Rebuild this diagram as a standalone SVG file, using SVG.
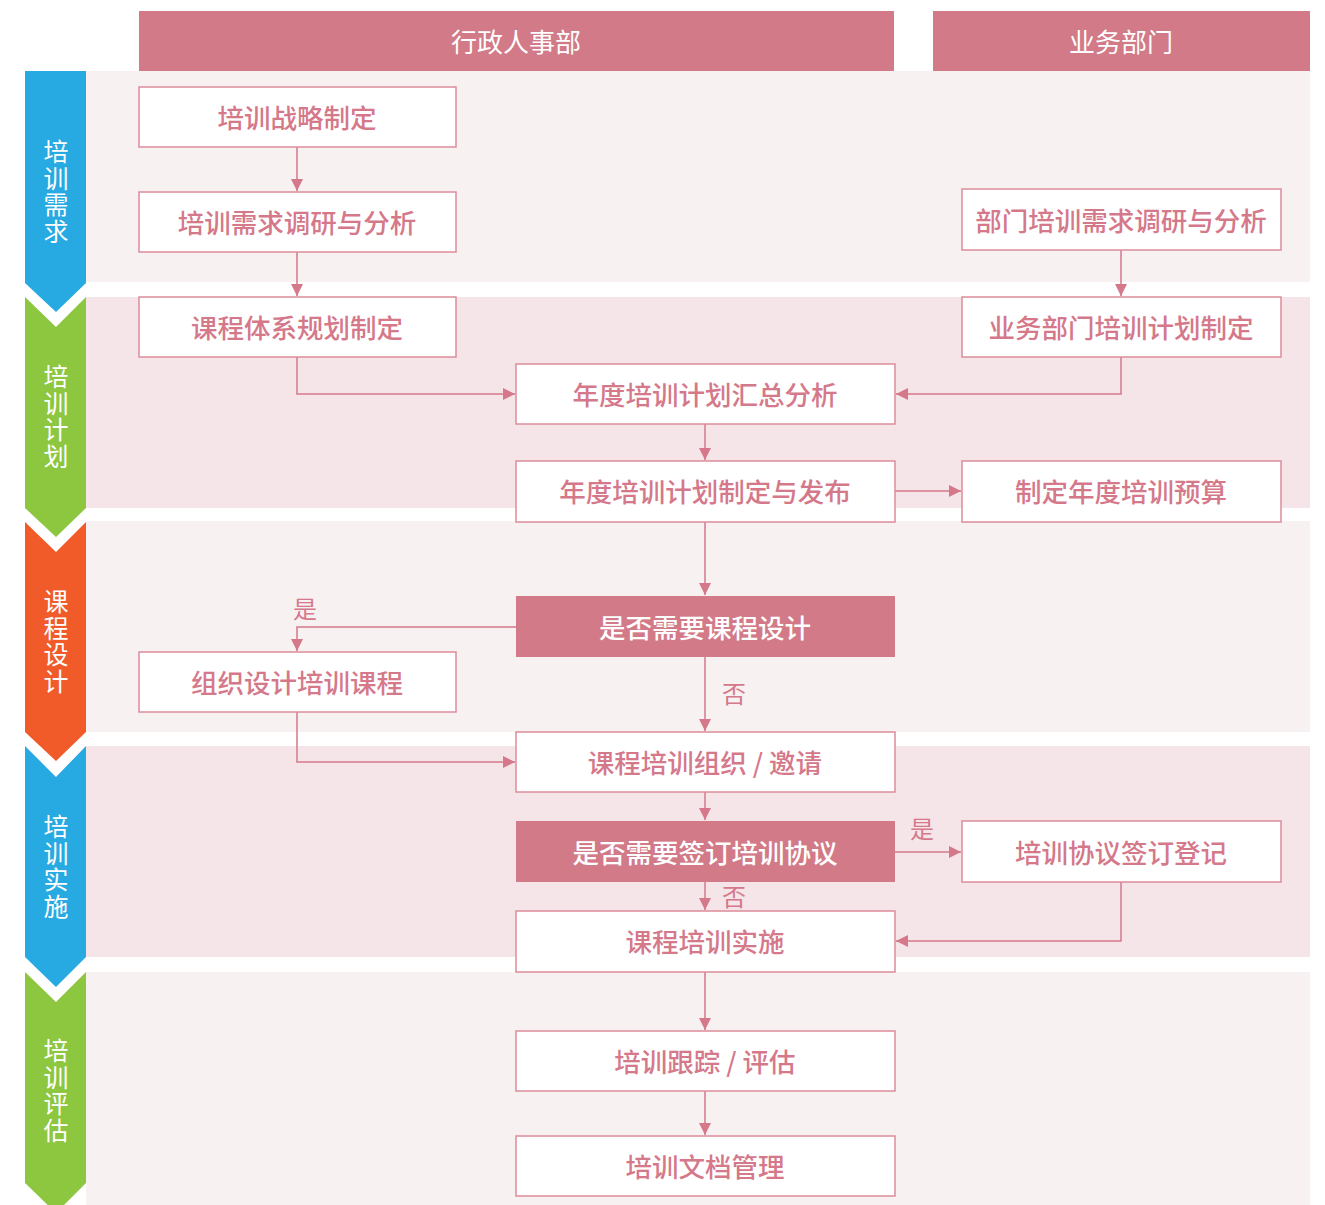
<svg xmlns="http://www.w3.org/2000/svg" width="1325" height="1205" viewBox="0 0 1325 1205">
<defs>
<style>
.band-a{fill:#f8f1f2}
.band-b{fill:#f5e5e9}
.hdr{fill:#d27a87}
.hdr-t{fill:#fff;font-family:"Noto Sans CJK SC","Noto Sans",sans-serif;font-size:26px;text-anchor:middle;dominant-baseline:central}
.chev-t{fill:#fff;font-family:"Noto Sans CJK SC","Noto Sans",sans-serif;font-size:25px;text-anchor:middle;dominant-baseline:central;writing-mode:vertical-rl;text-orientation:upright;letter-spacing:1.5px}
.box{fill:#fff;stroke:#dc8c9a;stroke-width:1.5}
.dec{fill:#d27a87}
.box-t{fill:#d4788a;font-family:"Noto Sans CJK SC","Noto Sans",sans-serif;font-size:26.5px;font-weight:500;text-anchor:middle;dominant-baseline:central}
.dec-t{fill:#fff;font-family:"Noto Sans CJK SC","Noto Sans",sans-serif;font-size:26.5px;font-weight:500;text-anchor:middle;dominant-baseline:central}
.lbl{fill:#d4788a;font-family:"Noto Sans CJK SC","Noto Sans",sans-serif;font-size:24px;text-anchor:middle;dominant-baseline:central}
.ln{fill:none;stroke:#d4788a;stroke-width:1.5;marker-end:url(#ah)}
</style>
<marker id="ah" viewBox="0 0 12 12" refX="12" refY="6" markerWidth="12" markerHeight="12" markerUnits="userSpaceOnUse" orient="auto">
<path d="M0,0 L12,6 L0,12 Z" fill="#d4788a"/>
</marker>
</defs>
<rect width="1325" height="1205" fill="#fff"/>
<g id="bands">
<rect class="band-a" x="86" y="71" width="1224" height="211"/>
<rect class="band-b" x="86" y="297" width="1224" height="211"/>
<rect class="band-a" x="86" y="521" width="1224" height="211"/>
<rect class="band-b" x="86" y="746" width="1224" height="211"/>
<rect class="band-a" x="86" y="972" width="1224" height="233"/>
</g>
<g id="headers">
<g id="hdr-admin"><rect class="hdr" x="139" y="11" width="755" height="60"/><text class="hdr-t" x="516" y="40">行政人事部</text></g>
<g id="hdr-biz"><rect class="hdr" x="933" y="11" width="377" height="60"/><text class="hdr-t" x="1121" y="40">业务部门</text></g>
</g>
<g id="phases">
<g id="ph1"><path d="M25,71 H86 V283 L56,312 L25,283 Z" fill="#27a9e1"/>
<text class="chev-t" x="56" y="192">培训需求</text></g>
<g id="ph2"><path d="M25,297 L56,327 L86,297 V508 L56,537 L25,508 Z" fill="#8dc63f"/>
<text class="chev-t" x="56" y="417">培训计划</text></g>
<g id="ph3"><path d="M25,522 L56,552 L86,522 V732 L56,761 L25,732 Z" fill="#f15a29"/>
<text class="chev-t" x="56" y="642">课程设计</text></g>
<g id="ph4"><path d="M25,746 L56,777 L86,746 V957 L56,987 L25,957 Z" fill="#27a9e1"/>
<text class="chev-t" x="56" y="867">培训实施</text></g>
<g id="ph5"><path d="M25,972 L56,1002 L86,972 V1183 L56,1213 L25,1183 Z" fill="#8dc63f"/>
<text class="chev-t" x="56" y="1091">培训评估</text></g>
</g>
<g id="connectors">
<path class="ln" d="M297,147 V191"/>
<path class="ln" d="M297,252 V296"/>
<path class="ln" d="M1121,250 V296"/>
<path class="ln" d="M297,357 V394 H515"/>
<path class="ln" d="M1121,357 V394 H896"/>
<path class="ln" d="M705,424 V460"/>
<path class="ln" d="M895,491 H961"/>
<path class="ln" d="M705,522 V595"/>
<path class="ln" d="M516,627 H297 V651"/>
<path class="ln" d="M705,657 V731"/>
<path class="ln" d="M297,712 V762 H515"/>
<path class="ln" d="M705,792 V820"/>
<path class="ln" d="M895,852 H961"/>
<path class="ln" d="M705,882 V910"/>
<path class="ln" d="M1121,882 V941 H896"/>
<path class="ln" d="M705,972 V1030"/>
<path class="ln" d="M705,1091 V1135"/>
<text class="lbl" x="305" y="607">是</text>
<text class="lbl" x="734" y="692">否</text>
<text class="lbl" x="922" y="827">是</text>
<text class="lbl" x="734" y="895">否</text>
</g>
<g id="n1"><rect class="box" x="139" y="87" width="317" height="60"/><text class="box-t" x="297" y="116">培训战略制定</text></g>
<g id="n2"><rect class="box" x="139" y="192" width="317" height="60"/><text class="box-t" x="297" y="221">培训需求调研与分析</text></g>
<g id="n3"><rect class="box" x="139" y="297" width="317" height="60"/><text class="box-t" x="297" y="326">课程体系规划制定</text></g>
<g id="n4"><rect class="box" x="962" y="189" width="319" height="61"/><text class="box-t" x="1121" y="219">部门培训需求调研与分析</text></g>
<g id="n5"><rect class="box" x="962" y="297" width="319" height="60"/><text class="box-t" x="1121" y="326">业务部门培训计划制定</text></g>
<g id="n6"><rect class="box" x="516" y="364" width="379" height="60"/><text class="box-t" x="705" y="393">年度培训计划汇总分析</text></g>
<g id="n7"><rect class="box" x="516" y="461" width="379" height="61"/><text class="box-t" x="705" y="490">年度培训计划制定与发布</text></g>
<g id="n8"><rect class="box" x="962" y="461" width="319" height="61"/><text class="box-t" x="1121" y="490">制定年度培训预算</text></g>
<g id="n9"><rect class="dec" x="516" y="596" width="379" height="61"/><text class="dec-t" x="705" y="626">是否需要课程设计</text></g>
<g id="n10"><rect class="box" x="139" y="652" width="317" height="60"/><text class="box-t" x="297" y="681">组织设计培训课程</text></g>
<g id="n11"><rect class="box" x="516" y="732" width="379" height="60"/><text class="box-t" x="705" y="761">课程培训组织 / 邀请</text></g>
<g id="n12"><rect class="dec" x="516" y="821" width="379" height="61"/><text class="dec-t" x="705" y="851">是否需要签订培训协议</text></g>
<g id="n13"><rect class="box" x="962" y="821" width="319" height="61"/><text class="box-t" x="1121" y="851">培训协议签订登记</text></g>
<g id="n14"><rect class="box" x="516" y="911" width="379" height="61"/><text class="box-t" x="705" y="940">课程培训实施</text></g>
<g id="n15"><rect class="box" x="516" y="1031" width="379" height="60"/><text class="box-t" x="705" y="1060">培训跟踪 / 评估</text></g>
<g id="n16"><rect class="box" x="516" y="1136" width="379" height="60"/><text class="box-t" x="705" y="1165">培训文档管理</text></g>
</svg>
